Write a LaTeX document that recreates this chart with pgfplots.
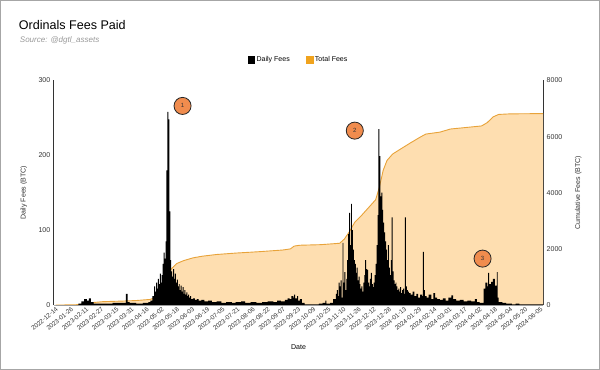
\documentclass[border=0pt]{standalone}
\usepackage{pgfplots}
\pgfplotsset{compat=1.18}
\usepackage{fontspec}
\setmainfont{Liberation Sans}
\definecolor{cumline}{RGB}{232,163,58}
\definecolor{cumfill}{RGB}{254,222,176}
\definecolor{legorange}{RGB}{240,163,30}
\definecolor{annot}{RGB}{240,140,78}
\definecolor{txt}{RGB}{51,51,51}
\begin{document}
\begin{tikzpicture}[x=1pt,y=1pt]
\draw[gray!70, line width=1.2pt] (2,2) rectangle (598,369);
\node[anchor=base west, inner sep=0, font=\fontsize{12.5}{14}\selectfont, text=black] at (20,340) {Ordinals Fees Paid};
\node[anchor=base west, inner sep=0, font=\fontsize{8}{10}\selectfont\itshape, text=gray!80] at (21,327) {Source: @dgtl\_assets};
\begin{axis}[at={(55pt,66pt)}, anchor=south west, scale only axis,
  width=487pt, height=223.5pt,
  xmin=-2, xmax=515, ymin=0, ymax=8000,
  axis y line*=right, axis x line=none,
  ytick={0,2000,4000,6000,8000},
  /pgf/number format/1000 sep={},
  /pgf/number format/assume math mode=true,
  major tick length=0pt,
  y axis line style={draw=txt, line width=0.8pt},
  yticklabel style={font=\fontsize{7}{8}\selectfont, text=txt},
  ylabel={Cumulative Fees (BTC)},
  ylabel style={font=\fontsize{7}{8}\selectfont, text=txt, at={(axis description cs:1.072,0.5)}, anchor=center},
]
\addplot[draw=none, fill=cumfill] coordinates {
(0,0) (20,5) (30,40) (40,90) (50,120) (70,140) (85,160) (100,200) (104,260) (108,420) (112,650) (116,900) (119,1150) (123,1320) (128,1480) (135,1580) (145,1680) (155,1740) (170,1800) (190,1850) (215,1900) (240,1960) (248,2000) (252,2100) (258,2130) (280,2150) (300,2200) (305,2350) (310,2600) (316,2950) (322,3150) (330,3450) (338,3750) (342,4200) (346,4800) (350,5150) (356,5380) (364,5550) (375,5780) (385,5980) (391,6090) (406,6160) (417,6270) (450,6380) (456,6500) (462,6700) (468,6790) (480,6810) (515,6820)
} \closedcycle;
\addplot[draw=cumline, line width=0.9pt] coordinates {
(0,0) (20,5) (30,40) (40,90) (50,120) (70,140) (85,160) (100,200) (104,260) (108,420) (112,650) (116,900) (119,1150) (123,1320) (128,1480) (135,1580) (145,1680) (155,1740) (170,1800) (190,1850) (215,1900) (240,1960) (248,2000) (252,2100) (258,2130) (280,2150) (300,2200) (305,2350) (310,2600) (316,2950) (322,3150) (330,3450) (338,3750) (342,4200) (346,4800) (350,5150) (356,5380) (364,5550) (375,5780) (385,5980) (391,6090) (406,6160) (417,6270) (450,6380) (456,6500) (462,6700) (468,6790) (480,6810) (515,6820)
};
\end{axis}
\begin{axis}[at={(55pt,66pt)}, anchor=south west, scale only axis,
  width=487pt, height=223.5pt,
  xmin=-2, xmax=515, ymin=0, ymax=300,
  axis y line*=left, axis x line*=bottom,
  ytick={0,100,200,300},
  /pgf/number format/assume math mode=true,
  major tick length=0pt,
  y axis line style={draw=txt, line width=0.8pt},
  x axis line style={draw=gray!60, line width=0.5pt},
  yticklabel style={font=\fontsize{7}{8}\selectfont, text=txt},
  xtick={0,16,...,512},
  xticklabels={2022-12-14,2023-01-26,2023-02-11,2023-02-27,2023-03-15,2023-03-31,2023-04-16,2023-05-02,2023-05-18,2023-06-03,2023-06-19,2023-07-05,2023-07-21,2023-08-06,2023-08-22,2023-09-07,2023-09-23,2023-10-09,2023-10-25,2023-11-10,2023-11-26,2023-12-12,2023-12-28,2024-01-13,2024-01-29,2024-02-14,2024-03-01,2024-03-17,2024-04-02,2024-04-18,2024-05-04,2024-05-20,2024-06-05},
  xticklabel style={rotate=40, anchor=north east, font=\fontsize{6.3}{7}\selectfont, text=txt, inner sep=1pt},
  ylabel={Daily Fees (BTC)},
  ylabel style={font=\fontsize{7}{8}\selectfont, text=txt, at={(axis description cs:-0.0616,0.5)}, anchor=center},
  xlabel={Date},
  xlabel style={font=\fontsize{7}{8}\selectfont, text=black, at={(axis description cs:0.5,0)}, yshift=-42pt, anchor=center},
  legend columns=2,
  legend style={draw=none, fill=none, at={(0.5,1)}, anchor=south, yshift=13pt, font=\fontsize{7}{8}\selectfont, /tikz/every even column/.append style={column sep=14pt}},
]
\addlegendimage{legend image code/.code={\fill[black] (0pt,-3.3pt) rectangle (6.6pt,3.3pt);}}
\addlegendentry{Daily Fees}
\addlegendimage{legend image code/.code={\fill[legorange] (0pt,-3.3pt) rectangle (6.6pt,3.3pt);}}
\addlegendentry{Total Fees}
\addplot[forget plot, const plot mark left, fill=black, draw=none] coordinates {
(0,0) (24,2) (27,5) (30,8) (33,6) (35,9) (37,4) (40,2) (50,2) (60,3) (70,3) (74,15) (76,4) (78,3) (85,2) (92,3) (98,4)
(100,6) (102,12) (104,25) (105,18) (106,30) (107,22) (108,35) (109,28) (110,42) (111,30) (112,40) (113,55) (114,70) (115,62) (116,85) (117,180) (118,258) (119,248) (120,125) (121,60) (122,45) (123,38) (124,48) (125,35) (126,42) (127,30) (128,34) (129,25) (130,28) (131,20) (132,26) (133,18) (134,24) (135,15) (136,20) (137,14) (138,17) (139,12) (140,14) (141,10) (142,12) (143,8) (145,9) (147,7) (149,8) (151,6) (154,7) (157,5) (161,6) (165,4) (170,5) (175,3) (180,4) (186,3) (190,4) (196,5) (200,3) (206,4) (212,3) (218,4) (224,5) (230,4) (234,6) (238,5) (242,7) (245,9) (247,8) (249,12) (251,10) (252,14) (253,9) (255,12) (256,6) (258,8) (260,3) (263,1) (270,1) (278,2) (282,3) (285,6) (286,2) (290,3) (293,8)
(296,15) (297,20) (298,12) (299,30) (300,25) (301,33) (302,10) (303,83) (304,30) (305,44) (306,20) (307,35) (308,60) (309,95) (310,123) (311,80) (312,135) (313,100) (314,74) (315,60) (316,55) (317,43) (318,50) (319,33) (320,38) (321,28) (322,22) (323,25) (324,18) (325,30) (326,40) (327,60) (328,48) (329,47) (330,30) (331,25) (332,35) (333,43) (334,28) (335,24) (336,30) (337,40) (338,55) (339,80) (340,120) (341,235) (342,199) (343,145) (344,150) (345,127) (346,110) (347,97) (348,85) (349,74) (350,60) (351,80) (352,50) (353,40) (354,60) (355,117) (356,45) (357,33) (358,28) (359,30) (360,25) (361,20) (362,22) (363,18) (364,24) (365,16) (366,20) (367,22) (368,15) (369,117) (370,25) (371,20) (372,18) (373,16) (375,14) (377,18) (379,12) (381,15) (383,10) (385,14) (387,12) (388,71) (389,20) (390,12) (392,10) (394,14) (397,8) (399,16) (401,10) (403,8) (406,7) (409,9) (412,6) (415,10) (418,13) (420,8) (423,6) (427,7) (431,5) (435,6) (439,5) (443,8) (445,4) (448,3)
(452,22) (454,30) (456,25) (457,43) (458,28) (460,31) (462,35) (464,26) (466,44) (467,10) (468,4) (472,3) (476,2) (482,1) (486,2) (490,1) (515,1)
} \closedcycle;
\node[circle, draw=black!85, fill=annot, line width=0.8pt, minimum size=17pt, inner sep=0pt, font=\fontsize{6}{6}\selectfont, text=black!80] at (axis cs:134,266) {1};
\node[circle, draw=black!85, fill=annot, line width=0.8pt, minimum size=17pt, inner sep=0pt, font=\fontsize{6}{6}\selectfont, text=black!80] at (axis cs:316,233) {2};
\node[circle, draw=black!85, fill=annot, line width=0.8pt, minimum size=17pt, inner sep=0pt, font=\fontsize{6}{6}\selectfont, text=black!80] at (axis cs:451,62) {3};
\end{axis}
\end{tikzpicture}
\end{document}
